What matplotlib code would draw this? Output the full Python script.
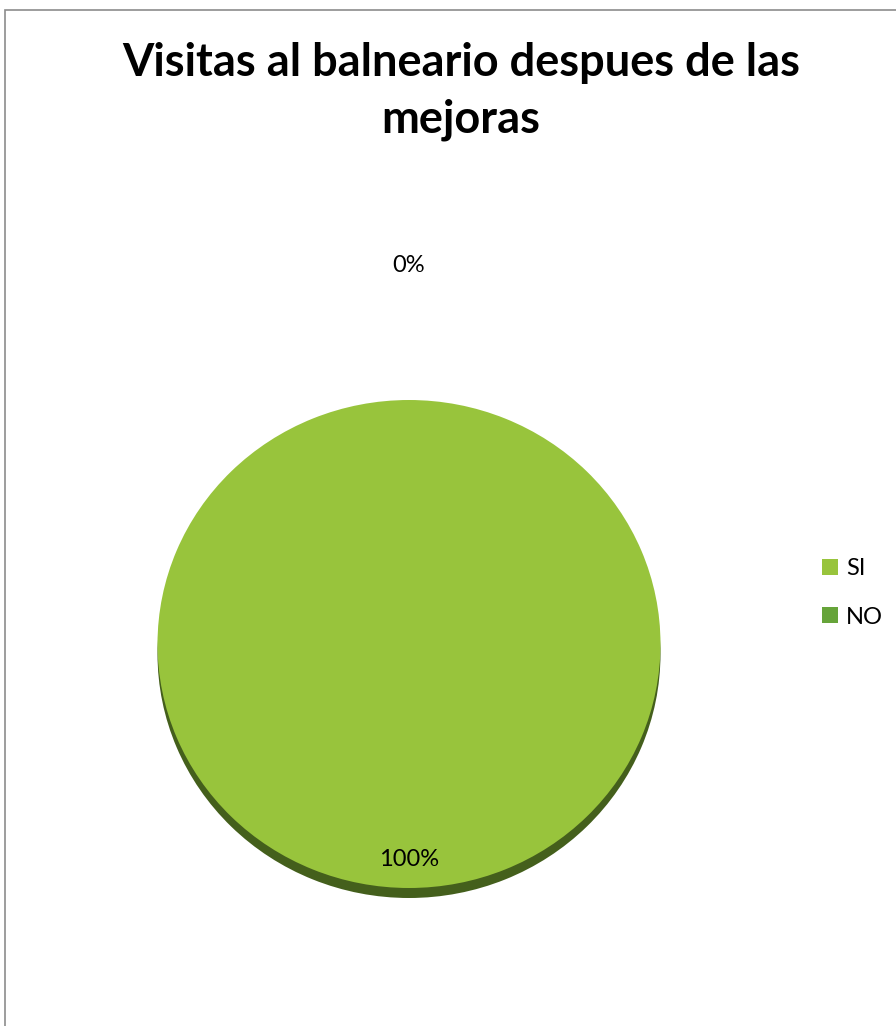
import matplotlib.pyplot as plt
from matplotlib.patches import Rectangle

categories = ['SI', 'NO']
values = [100, 0]
colors = ['#98c43c', '#66a43a']
side_color = '#445f1c'
title = 'Visitas al balneario despues de las\nmejoras'

plt.rcParams['font.family'] = ['Lato', 'DejaVu Sans']

W, H = 896, 1026
fig = plt.figure(figsize=(W / 100, H / 100), dpi=100)

# chart frame (cut off at right and bottom like the screenshot)
fig.patches.append(Rectangle((5 / W, -0.1), 1.2, 1 - 10 / H + 0.1,
                             transform=fig.transFigure, fill=False,
                             edgecolor='#8c8c8c', linewidth=1.2))

fig.text(461 / W, 1 - 42 / H, title, ha='center', va='top',
         fontsize=32.5, fontweight='bold', linespacing=1.42)

# pie axes: x radius 251.5 px, y radius 244 px, centre at (409, 644)
cx, cy, rx, ry = 409, 644, 251.5, 244
ylo, yhi = -1.1, 1.0
ax = fig.add_axes([(cx - rx) / W, 1 - (cy - ylo * ry) / H,
                   2 * rx / W, (yhi - ylo) * ry / H])

depth = 10 / ry
# side of the 3D pie
ax.pie(values, colors=[side_color, side_color], startangle=90,
       counterclock=False, center=(0, -depth))
wedges, texts, autotexts = ax.pie(values, colors=colors, startangle=90,
                                  counterclock=False, autopct='%1.0f%%',
                                  pctdistance=0.885,
                                  textprops={'fontsize': 17, 'color': 'black'})
x, y = autotexts[1].get_position()
autotexts[1].set_position((x * 1.55 / 0.885, y * 1.55 / 0.885))

ax.set_xlim(-1, 1)
ax.set_ylim(ylo, yhi)
ax.set_aspect('auto')
ax.axis('off')

fig.legend(wedges, categories, loc='center left',
           bbox_to_anchor=(801 / W, 1 - 593 / H), frameon=False,
           fontsize=17, handlelength=0.65, handleheight=0.65,
           labelspacing=1.15, handletextpad=0.35)

fig.savefig('out.png', dpi=100)
